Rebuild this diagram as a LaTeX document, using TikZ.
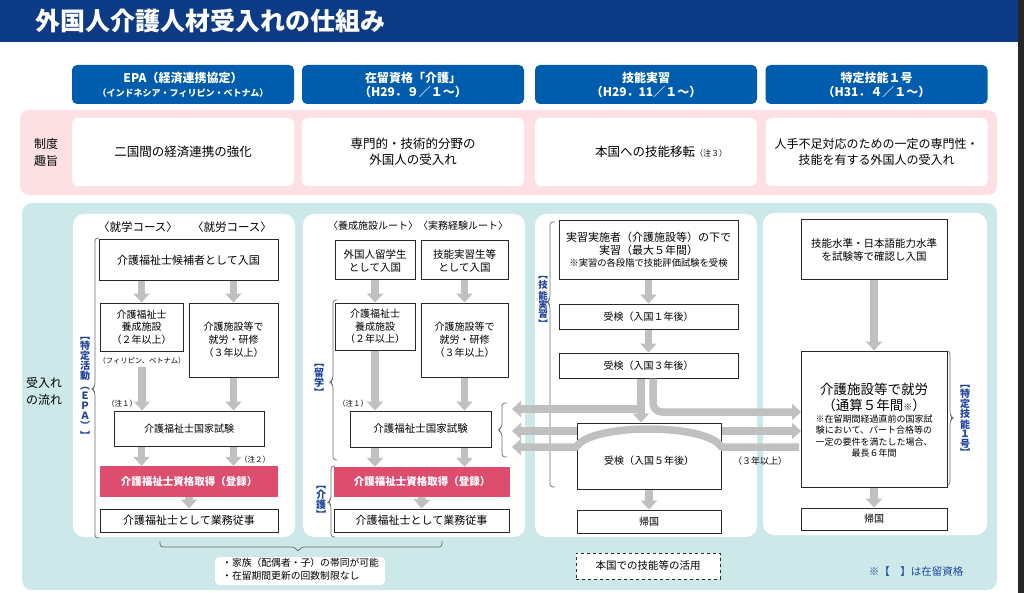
\documentclass[tikz,border=0pt]{standalone}
\usepackage{fontspec}
\setmainfont{Noto Sans CJK JP}
\usetikzlibrary{arrows.meta}
\definecolor{titlebg}{RGB}{12,58,132}
\definecolor{hdrblue}{RGB}{0,92,172}
\definecolor{pinkband}{RGB}{252,224,228}
\definecolor{tealband}{RGB}{205,232,233}
\definecolor{pinkbox}{RGB}{221,77,110}
\definecolor{arrowgray}{RGB}{192,192,192}
\definecolor{lblblue}{RGB}{30,66,158}
\definecolor{brgray}{RGB}{110,110,110}
\definecolor{boxline}{RGB}{40,40,40}
\newcommand{\jfs}[2]{\fontsize{#1}{#2}\selectfont}
\tikzset{
  hdr/.style={fill=hdrblue, rounded corners=5pt, text=white, align=center, inner sep=0pt, minimum width=222pt, minimum height=39pt, font=\bfseries\jfs{12}{14}},
  wbox/.style={draw=boxline, line width=1pt, fill=white, align=center, inner sep=0pt},
  ybox/.style={fill=white, rounded corners=6pt, align=center, inner sep=0pt, minimum width=222pt, minimum height=68pt},
  pbox/.style={fill=pinkbox, text=white, align=center, inner sep=0pt, font=\bfseries\jfs{10.5}{12}},
  garrow/.style={draw=arrowgray, line width=7.5pt, -{Triangle[length=9pt,width=16pt]}},
  gbar/.style={draw=arrowgray, line width=7.5pt},
  brk/.style={draw=brgray, line width=0.7pt, rounded corners=3pt},
  vlabel/.style={text=lblblue, font=\bfseries\jfs{10}{10}, align=center, inner sep=0pt},
  txt/.style={inner sep=0pt, align=center},
}
\begin{document}
\begin{tikzpicture}[x=1pt,y=-1pt]
\useasboundingbox (0,0) rectangle (1024,593);
% title
\fill[titlebg] (0,0) rectangle (1024,42);
\node[anchor=west, text=white, font=\bfseries\jfs{25}{25}, inner sep=0pt] (title) at (35,21) {外国人介護人材受入れの仕組み};
\fill[black!85] (1018,0) rectangle (1024,593);
% headers
\node[hdr] (h1) at (183,84.5) {EPA（経済連携協定）\\{\jfs{9}{11}（インドネシア・フィリピン・ベトナム）}};
\node[hdr] (h2) at (413,84.5) {在留資格「介護」\\（H29．９／１～）};
\node[hdr] (h3) at (646,84.5) {技能実習\\（H29．11／１～）};
\node[hdr] (h4) at (876.5,84.5) {特定技能１号\\（H31．４／１～）};
% pink band
\fill[pinkband, rounded corners=9pt] (20,110) rectangle (997,195);
\node[txt, font=\jfs{12}{17}] (seido) at (46,152) {制度\\趣旨};
\node[ybox, font=\jfs{12.5}{16}] (s1) at (183,152) {二国間の経済連携の強化};
\node[ybox, font=\jfs{12.5}{16}] (s2) at (413,152) {専門的・技術的分野の\\外国人の受入れ};
\node[ybox] (s3) at (646,152) {};
\node[txt, font=\jfs{12.5}{16}] (s3t) at (661,152) {本国への技能移転{\jfs{8}{8}（注３）}};
\node[ybox, font=\jfs{12}{16}] (s4) at (876.5,152) {人手不足対応のための一定の専門性・\\技能を有する外国人の受入れ};
% teal band and panels
\fill[tealband, rounded corners=10pt] (22,203) rectangle (997,590);
\node[txt, font=\jfs{12}{17}] (flow) at (44,391) {受入れ\\の流れ};
\fill[white, rounded corners=11pt] (73,214) rectangle (295,537);
\fill[white, rounded corners=11pt] (303,214) rectangle (525,537);
\fill[white, rounded corners=11pt] (535,214) rectangle (757,537);
\fill[white, rounded corners=11pt] (763,213) rectangle (987,535);
% ---------- panel 1 (EPA)
\node[txt, font=\jfs{11.5}{12}] (k1) at (138,227) {〈就学コース〉};
\node[txt, font=\jfs{11.5}{12}] (k2) at (232,227) {〈就労コース〉};
\node[wbox, minimum width=179pt, minimum height=41pt, font=\jfs{11}{13}] (a1) at (188.5,260.5) {介護福祉士候補者として入国};
\node[wbox, minimum width=83pt, minimum height=48pt, font=\jfs{10}{12.5}] (a2) at (141.5,327) {介護福祉士\\養成施設\\（２年以上）};
\node[wbox, minimum width=89pt, minimum height=74pt, font=\jfs{10}{13}] (a3) at (233.5,340) {介護施設等で\\就労・研修\\（３年以上）};
\node[txt, font=\jfs{7.3}{8}] (fil) at (142,361) {（フィリピン、ベトナム）};
\node[wbox, minimum width=150pt, minimum height=35pt, font=\jfs{10}{12}] (a4) at (189,428.5) {介護福祉士国家試験};
\node[pbox, minimum width=178pt, minimum height=31pt] (a5) at (189,481.5) {介護福祉士資格取得（登録）};
\node[wbox, minimum width=178pt, minimum height=23pt, font=\jfs{11}{12}] (a6) at (189,520.5) {介護福祉士として業務従事};
\node[txt, font=\jfs{7.5}{8}] (n1a) at (122,404) {（注１）};
\node[txt, font=\jfs{7.5}{8}] (n2a) at (255,460) {（注２）};
\draw[garrow] (a2.north |- a1.south) -- (a2.north);
\draw[garrow] (a3.north |- a1.south) -- (a3.north);
\draw[garrow] ([yshift=-2pt]fil.south) -- (fil.south |- a4.north);
\draw[garrow] (a3.south) -- (a3.south |- a4.north);
\draw[garrow] (a4.south -| a2.south) -- (a5.north -| a2.south);
\draw[garrow] (a4.south -| a3.south) -- (a5.north -| a3.south);
\draw[garrow] (a5.south) -- (a6.north);
\node[vlabel] (lab1) at (85,388) {︻\\特\\定\\活\\動\\︵\\Ｅ\\Ｐ\\Ａ\\︶\\︼};
\draw[brk] (99,238) -- (95,238) -- (95,386) -- (92,389) -- (95,392) -- (95,538) -- (99,538);
% ---------- panel 2 (介護)
\node[txt, font=\jfs{10}{12}] (k3) at (418,226) {〈養成施設ルート〉〈実務経験ルート〉};
\node[wbox, minimum width=80pt, minimum height=39pt, font=\jfs{10.5}{13}] (b1) at (375,260.5) {外国人留学生\\として入国};
\node[wbox, minimum width=87pt, minimum height=39pt, font=\jfs{10.5}{13}] (b2) at (464.5,260.5) {技能実習生等\\として入国};
\node[wbox, minimum width=80pt, minimum height=47pt, font=\jfs{10}{12.5}] (b3) at (375,326.5) {介護福祉士\\養成施設\\（２年以上）};
\node[wbox, minimum width=87pt, minimum height=74pt, font=\jfs{10}{13}] (b4) at (464.5,340) {介護施設等で\\就労・研修\\（３年以上）};
\node[txt, font=\jfs{7.5}{8}] (n1b) at (353,404) {（注１）};
\node[wbox, minimum width=141pt, minimum height=36pt, font=\jfs{10.5}{12}] (b5) at (420.5,429) {介護福祉士国家試験};
\node[pbox, minimum width=176pt, minimum height=30pt] (b6) at (422,482) {介護福祉士資格取得（登録）};
\node[wbox, minimum width=175pt, minimum height=23pt, font=\jfs{11}{12}] (b7) at (421.5,520.5) {介護福祉士として業務従事};
\draw[garrow] (b1.south) -- (b3.north);
\draw[garrow] (b2.south) -- (b4.north);
\draw[garrow] (b3.south) -- (b3.south |- b5.north);
\draw[garrow] (b4.south) -- (b4.south |- b5.north);
\draw[garrow] (b5.south -| b3.south) -- (b6.north -| b3.south);
\draw[garrow] (b5.south -| b4.south) -- (b6.north -| b4.south);
\draw[garrow] (b6.south) -- (b7.north);
\node[vlabel] (lab2) at (319,380) {︻\\留\\学\\︼};
\node[vlabel] (lab3) at (321,502) {︻\\介\\護\\︼};
\draw[brk] (337,300) -- (333,300) -- (333,379) -- (330,382) -- (333,385) -- (333,460) -- (337,460);
\draw[brk] (335,466) -- (331,466) -- (331,499) -- (328,502) -- (331,505) -- (331,537) -- (335,537);
\draw[brk] (507,403) -- (502,403) -- (502,427) -- (498,430) -- (502,433) -- (502,457) -- (507,457);
% brace and note box
\draw[brk] (160,541) -- (160,547) -- (295,547) -- (298,552) -- (301,547) -- (442,547) -- (442,541);
\node[fill=white, rounded corners=4pt, minimum width=170pt, minimum height=28pt, inner sep=0pt] (nb) at (300,571) {};
\node[txt, anchor=west, align=left, font=\jfs{9.8}{13}] (nbt) at (222,569.5) {・家族（配偶者・子）の帯同が可能\\・在留期間更新の回数制限なし};
% ---------- panel 3 (技能実習)
\node[wbox, minimum width=179pt, minimum height=59pt] (c1) at (648.5,250.5) {};
\node[txt, font=\jfs{11}{13}] (c1t) at (648.5,243.5) {実習実施者（介護施設等）の下で\\実習（最大５年間）};
\node[txt, font=\jfs{9.3}{9}] (c1n) at (648.5,263) {※実習の各段階で技能評価試験を受検};
\node[wbox, minimum width=179pt, minimum height=25pt, font=\jfs{10}{12}] (c2) at (648.5,316.5) {受検（入国１年後）};
\node[wbox, minimum width=179pt, minimum height=25pt, font=\jfs{10}{12}] (c3) at (648.5,365.5) {受検（入国３年後）};
\node[wbox, minimum width=144pt, minimum height=66pt] (c4) at (649,456) {};
\node[txt, font=\jfs{10}{12}] (c4t) at (649,461) {受検（入国５年後）};
\node[wbox, minimum width=144pt, minimum height=23pt, font=\jfs{10}{12}] (c5) at (649,521.5) {帰国};
\node[draw=boxline, dashed, line width=1pt, fill=white, minimum width=144pt, minimum height=26pt, inner sep=0pt, font=\jfs{10.5}{12}] (c6) at (648,566) {本国での技能等の活用};
\draw[garrow] (c2.north |- c1.south) -- (c2.north);
\draw[garrow] (c2.south) -- (c3.north);
\draw[garrow] (c4.south) -- (c5.north);
\node[vlabel, font=\bfseries\jfs{9.5}{9}] (lab4) at (543,302) {︻\\技\\能\\実\\習\\︼};
\draw[brk] (555,222) -- (550,222) -- (550,299) -- (547,302) -- (550,305) -- (550,487) -- (555,487);
\node[txt, font=\jfs{9}{10}] (y3) at (760,461) {（３年以上）};
% ---------- panel 4 (特定技能)
\node[wbox, minimum width=146pt, minimum height=60pt, font=\jfs{10.5}{12.5}] (d1) at (874,250) {技能水準・日本語能力水準\\を試験等で確認し入国};
\node[wbox, minimum width=146pt, minimum height=136pt] (d2) at (874,419) {};
\node[txt, font=\jfs{13.5}{16}] (d2t) at (874,397) {介護施設等で就労\\（通算５年間{\jfs{9}{9}※}）};
\node[txt, font=\jfs{9}{11.2}] (d2n) at (874,436) {※在留期間経過直前の国家試\\験において、パート合格等の\\一定の要件を満たした場合、\\最長６年間};
\node[wbox, minimum width=146pt, minimum height=22pt, font=\jfs{10}{12}] (d3) at (874,519) {帰国};
\draw[garrow] (d1.south) -- (d2.north);
\draw[garrow] (d2.south) -- (d3.north);
\node[vlabel, font=\bfseries\jfs{10}{9.5}] (lab5) at (965,421) {︻\\特\\定\\技\\能\\１\\号\\︼};
\draw[brk] (947,351) -- (950,351) -- (950,415) -- (953,418) -- (950,421) -- (950,485) -- (947,485);
\node[txt, text=lblblue, font=\jfs{10.5}{12}] (legend) at (916,572) {※【　】は在留資格};
% ---------- middle connectors
\coordinate (xL) at (641,0);
\coordinate (xR) at (653,0);
\coordinate (tl1) at (512,409);
\coordinate (tr1) at (801,412);
\coordinate (tl2) at (512,431);
\coordinate (tr2) at (801,431);
\coordinate (tl3) at (512,447);
\coordinate (br3) at (799,447);
\draw[garrow] (xL |- tl1) -- (tl1);
\draw[garrow] (xL |- c3.south) -- (xL |- c4.north);
\draw[garrow, rounded corners=9pt] (xR |- c3.south) |- (tr1);
\draw[garrow] (c4.west |- tl2) -- (tl2);
\draw[garrow] (c4.east |- tr2) -- (tr2);
\draw[garrow, line join=round] (br3) -- (c4.east |- br3) .. controls (707,423) and (590,423) .. (c4.west |- br3) -- (tl3);
\end{tikzpicture}
\end{document}
